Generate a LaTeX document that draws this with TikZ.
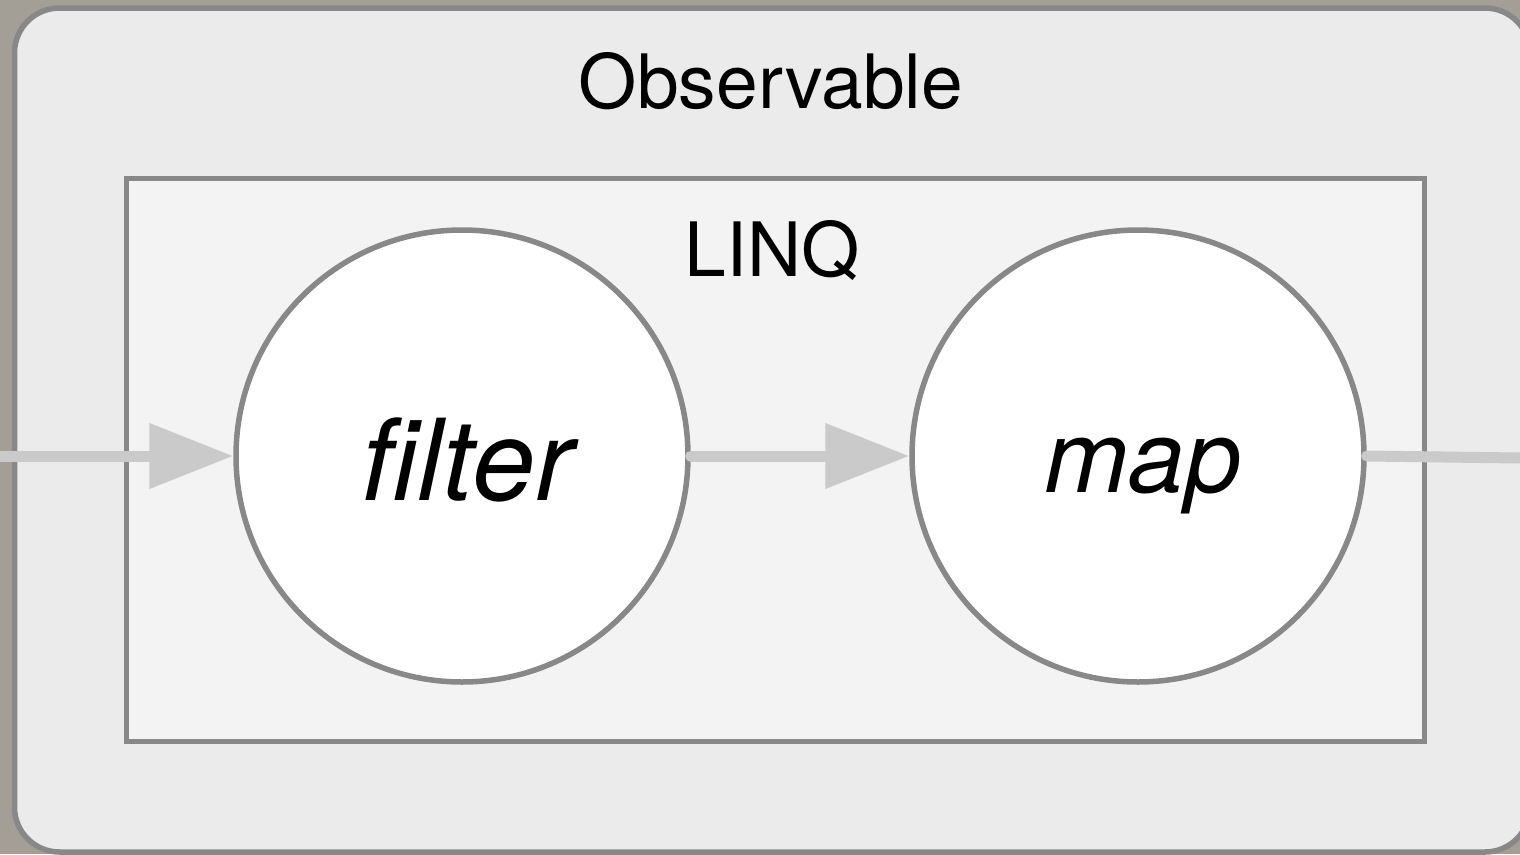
\documentclass[tikz,border=0pt]{standalone}
\usepackage{fontspec}
\setmainfont{TeX Gyre Heros}
\usetikzlibrary{arrows.meta}
\definecolor{bgc}{HTML}{A39E96}
\definecolor{outerfill}{HTML}{EBEBEB}
\definecolor{innerfill}{HTML}{F3F3F3}
\definecolor{edgec}{HTML}{888888}
\definecolor{flowc}{HTML}{CACACA}
\tikzset{
  opnode/.style={circle, draw=edgec, fill=white, line width=5.5pt, minimum size=452pt, inner sep=0pt},
  titletext/.style={anchor=base, inner sep=0pt, font=\fontsize{75}{90}\selectfont},
  flow/.style={draw=flowc, line width=11pt},
  flowhead/.style={flow, -{Triangle[length=84pt, width=63pt]}},
}
\begin{document}
\begin{tikzpicture}[x=1pt, y=-1pt]
\useasboundingbox (0,0) rectangle (1520,854);
\fill[bgc] (0,0) rectangle (1520,854);
\draw[fill=outerfill, draw=edgec, line width=5.5pt, rounded corners=45pt] (14.5,8) rectangle (1530,852);
\draw[fill=innerfill, draw=edgec, line width=5pt] (126.5,178) rectangle (1424,741);
\node[titletext] (obs) at (771,108) {Observable};
\node[titletext] (linq) at (772,276) {LINQ};
\node[opnode] (filter) at (462,456) {};
\node[opnode] (map) at (1138,456) {};
\node[anchor=base, inner sep=0pt, font=\fontsize{113}{130}\selectfont\itshape] (filtert) at (467,500) {filter};
\node[anchor=base, inner sep=0pt, font=\fontsize{101}{120}\selectfont\itshape] (mapt) at (1143,492) {map};
\coordinate (in) at (0,456);
\coordinate (out) at (1520,458);
\draw[flowhead] (in) -- (filter.west);
\draw[flowhead, line cap=round] (filter.east) -- (map.west);
\draw[flow, line cap=round] (map.east) -- (out);
\end{tikzpicture}
\end{document}
